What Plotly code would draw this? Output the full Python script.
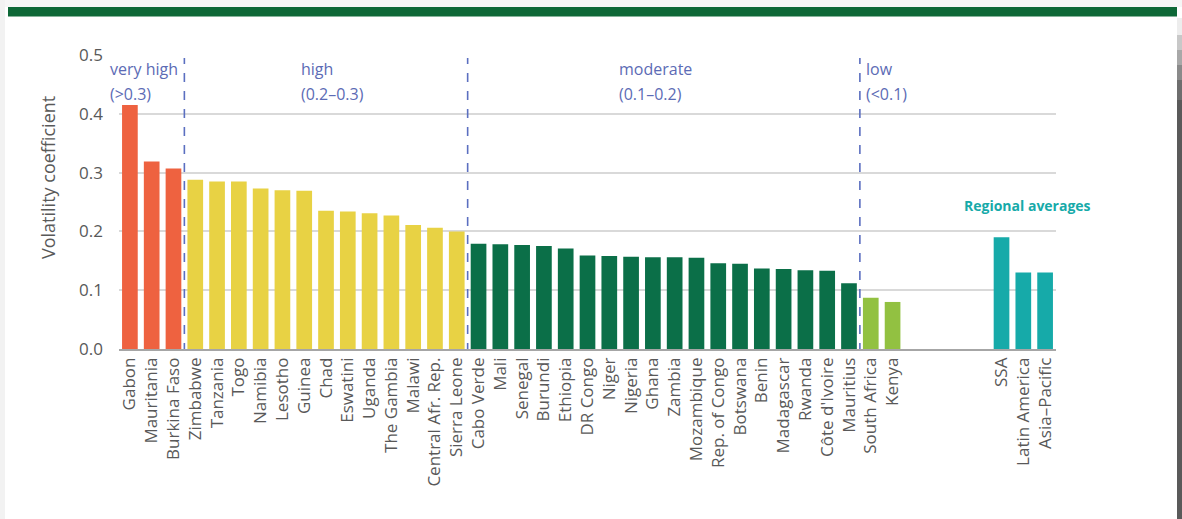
import plotly.graph_objects as go

# ---------------- data ----------------
very_high = ["Gabon", "Mauritania", "Burkina Faso"]
very_high_vals = [0.415, 0.319, 0.307]

high = ["Zimbabwe", "Tanzania", "Togo", "Namibia", "Lesotho", "Guinea", "Chad",
        "Eswatini", "Uganda", "The Gambia", "Malawi", "Central Afr. Rep.", "Sierra Leone"]
high_vals = [0.288, 0.285, 0.285, 0.273, 0.270, 0.269, 0.235,
             0.234, 0.231, 0.227, 0.211, 0.206, 0.200]

moderate = ["Cabo Verde", "Mali", "Senegal", "Burundi", "Ethiopia", "DR Congo", "Niger",
            "Nigeria", "Ghana", "Zambia", "Mozambique", "Rep. of Congo", "Botswana",
            "Benin", "Madagascar", "Rwanda", "Côte d'Ivoire", "Mauritius"]
moderate_vals = [0.179, 0.178, 0.177, 0.175, 0.171, 0.159, 0.158,
                 0.157, 0.156, 0.156, 0.155, 0.146, 0.145,
                 0.137, 0.136, 0.134, 0.133, 0.112]

low = ["South Africa", "Kenya"]
low_vals = [0.087, 0.080]

regions = ["SSA", "Latin America", "Asia\u2013Pacific"]
region_vals = [0.190, 0.130, 0.130]

GAP_SLOTS = 4

groups = [
    (very_high, very_high_vals, "#EE6240"),
    (high, high_vals, "#E8D244"),
    (moderate, moderate_vals, "#0B6F48"),
    (low, low_vals, "#92C141"),
]

# ---------------- layout constants ----------------
W, H = 1182, 519
L, R, T, B = 119, 126, 55, 170
PW, PH = W - L - R, H - T - B

def px(x):
    return (x - L) / PW

def py(y):
    return (H - B - y) / PH

fig = go.Figure()
pos = 0
tickvals, ticktext = [], []
boundaries = []
for names, vals, col in groups:
    xs = list(range(pos, pos + len(names)))
    fig.add_trace(go.Bar(x=xs, y=vals, marker=dict(color=col, line=dict(width=0)),
                         showlegend=False, hoverinfo="y"))
    tickvals += xs
    ticktext += names
    pos += len(names)
    boundaries.append(pos - 0.5)
boundaries = boundaries[:-1]

pos += GAP_SLOTS
xs = list(range(pos, pos + len(regions)))
fig.add_trace(go.Bar(x=xs, y=region_vals, marker=dict(color="#16AAA9", line=dict(width=0)),
                     showlegend=False, hoverinfo="y"))
tickvals += xs
ticktext += regions
n_slots = pos + len(regions)

font = "Open Sans, Segoe UI, sans-serif"
grey = "#595959"
blue = "#5C6BB5"

shapes = []
for b in boundaries:
    shapes.append(dict(type="line", xref="x", yref="y", x0=b, x1=b, y0=-0.005, y1=0.495,
                       line=dict(color="#5B6FC0", width=1.6, dash="dash"), layer="above"))

# page decoration: top green band and card edges
shapes += [
    dict(type="rect", xref="paper", yref="paper", x0=px(0), x1=px(W), y0=py(7), y1=py(0),
         fillcolor="#F6F6F6", line=dict(width=0), layer="below"),
    dict(type="rect", xref="paper", yref="paper", x0=px(0), x1=px(5), y0=py(H), y1=py(0),
         fillcolor="#F2F2F2", line=dict(width=0), layer="below"),
    dict(type="rect", xref="paper", yref="paper", x0=px(8), x1=px(1177), y0=py(16.5), y1=py(7),
         fillcolor="#0E6837", line=dict(width=0), layer="below"),
]
steps = [(18, 35, "#EDEDED"), (35, 50, "#C8C8C8"), (50, 65, "#A8A8A8"),
         (65, 80, "#8A8A8A"), (80, 100, "#6E6E6E"), (100, H + 5, "#5A5A5A")]
for y0, y1, c in steps:
    shapes.append(dict(type="rect", xref="paper", yref="paper", x0=px(1177), x1=px(W + 6),
                       y0=py(y1), y1=py(y0), fillcolor=c, line=dict(width=0), layer="above"))

annotations = []
labels = [("very high", "(>0.3)", 108), ("high", "(0.2\u20130.3)", 299),
          ("moderate", "(0.1\u20130.2)", 617), ("low", "(<0.1)", 864)]
for t1, t2, x in labels:
    annotations.append(dict(text=t1, xref="paper", yref="paper", x=px(x), y=py(69),
                            xanchor="left", yanchor="middle", showarrow=False,
                            font=dict(family=font, size=16, color=blue)))
    annotations.append(dict(text=t2, xref="paper", yref="paper", x=px(x), y=py(94),
                            xanchor="left", yanchor="middle", showarrow=False,
                            font=dict(family=font, size=16, color=blue)))
annotations.append(dict(text="<b>Regional averages</b>", xref="paper", yref="paper",
                        x=px(1027), y=py(205), xanchor="center", yanchor="middle",
                        showarrow=False, font=dict(family=font, size=14, color="#16AAA9")))
annotations.append(dict(text="Volatility coefficient", xref="paper", yref="paper",
                        x=px(48), y=py(178), xanchor="center", yanchor="middle",
                        textangle=-90, showarrow=False,
                        font=dict(family=font, size=18, color=grey)))

fig.update_layout(
    width=W, height=H,
    margin=dict(l=L, r=R, t=T, b=B, pad=0),
    paper_bgcolor="white", plot_bgcolor="white",
    bargap=0.28,
    font=dict(family=font, color=grey),
    shapes=shapes, annotations=annotations,
    xaxis=dict(range=[-0.5, n_slots - 0.5], tickmode="array", tickvals=tickvals,
               ticktext=ticktext, tickangle=-90, tickfont=dict(size=17, color=grey),
               showgrid=False, showline=True, linecolor="#A6A6A6", linewidth=1.5,
               ticks="", zeroline=False, fixedrange=True),
    yaxis=dict(range=[0, 0.5], dtick=0.1, tickformat=".1f",
               tickfont=dict(size=17, color=grey), showgrid=True, gridcolor="#D9D9D9",
               gridwidth=1.5, zeroline=False, showline=False, ticks="",
               ticklabelstandoff=15),
)

fig.write_html("out.html", config={"displayModeBar": False},
               post_script="document.body.style.margin='0';document.body.style.overflow='hidden';")
